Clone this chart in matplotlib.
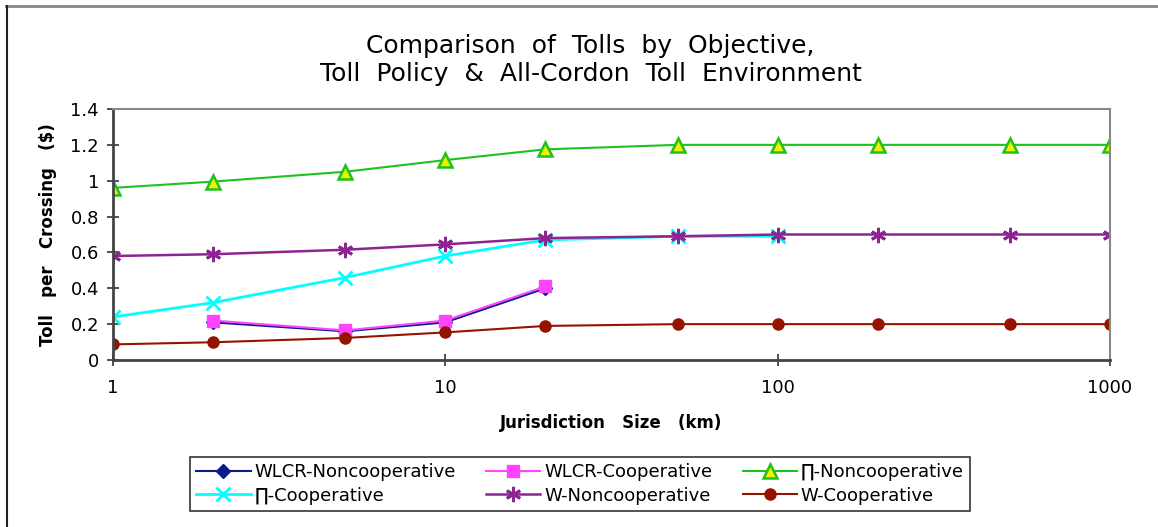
import matplotlib
matplotlib.use("Agg")
import matplotlib.pyplot as plt
from matplotlib.lines import Line2D

# data
sizes = [1, 2, 5, 10, 20, 50, 100, 200, 500, 1000]

wlcr_nc_x = [2, 5, 10, 20]
wlcr_nc = [0.21, 0.16, 0.21, 0.40]
wlcr_c_x = [2, 5, 10, 20]
wlcr_c = [0.22, 0.165, 0.22, 0.41]
pi_nc = [0.96, 0.995, 1.05, 1.115, 1.175, 1.2, 1.2, 1.2, 1.2, 1.2]
pi_c_x = [1, 2, 5, 10, 20, 50, 100]
pi_c = [0.24, 0.32, 0.46, 0.58, 0.67, 0.69, 0.69]
w_nc = [0.58, 0.59, 0.615, 0.645, 0.68, 0.69, 0.70, 0.70, 0.70, 0.70]
w_c = [0.087, 0.099, 0.123, 0.154, 0.19, 0.20, 0.20, 0.20, 0.20, 0.20]

labels = ["WLCR-Noncooperative", "WLCR-Cooperative", "\u220f-Noncooperative",
          "\u220f-Cooperative", "W-Noncooperative", "W-Cooperative"]

fig = plt.figure(figsize=(11.58, 5.27), dpi=100)
ax = fig.add_axes((113 / 1158, 1 - 360 / 527, 997 / 1158, 251 / 527))

ax.plot(wlcr_nc_x, wlcr_nc, color="#0a1a8c", marker="D", markersize=7,
        lw=1.5, label=labels[0])
ax.plot(wlcr_c_x, wlcr_c, color="#ff44ff", marker="s", markersize=8,
        lw=1.5, label=labels[1])
ax.plot(sizes, pi_nc, color="#1ec21e", marker="^", markersize=10,
        markerfacecolor="#f0f000", markeredgecolor="#1ec21e", mew=1.8,
        lw=1.5, label=labels[2])
ax.plot(pi_c_x, pi_c, color="#00ffff", marker="x", markersize=10, mew=2,
        lw=2, label=labels[3])
ax.plot(sizes, w_nc, color="#8e2491", marker=(6, 2, 0), markersize=11, mew=2,
        lw=1.8, label=labels[4])
ax.plot(sizes, w_c, color="#941400", marker="o", markersize=8,
        lw=1.5, label=labels[5])

ax.set_xscale("log")
ax.set_xlim(1, 1000)
ax.set_ylim(0, 1.4)
ax.set_yticks([0, 0.2, 0.4, 0.6, 0.8, 1, 1.2, 1.4])
ax.set_yticklabels(["0", "0.2", "0.4", "0.6", "0.8", "1", "1.2", "1.4"])
ax.set_xticks([1, 10, 100, 1000])
ax.set_xticklabels(["1", "10", "100", "1000"])
ax.minorticks_off()
ax.tick_params(labelsize=13, direction="inout", length=8, width=1.2,
               colors="#333333", labelcolor="black")
ax.tick_params(axis="x", pad=10)
ax.tick_params(axis="y", pad=6)

for side in ["top", "right"]:
    ax.spines[side].set_color("#888888")
    ax.spines[side].set_linewidth(1.5)
for side in ["left", "bottom"]:
    ax.spines[side].set_color("#444444")
    ax.spines[side].set_linewidth(2)

ax.set_ylabel("Toll   per   Crossing   ($)", fontsize=12, fontweight="bold",
              labelpad=10)
ax.set_xlabel("Jurisdiction   Size   (km)", fontsize=12, fontweight="bold",
              labelpad=12)

fig.text(0.51, 1 - 60 / 527, "Comparison  of  Tolls  by  Objective,\n"
         "Toll  Policy  &  All-Cordon  Toll  Environment",
         ha="center", va="center", fontsize=18, linespacing=1.25)

# legend is filled row by row in the reference
handles, labs = ax.get_legend_handles_labels()
order = [0, 3, 1, 4, 2, 5]
leg = fig.legend([handles[i] for i in order], [labs[i] for i in order],
                 loc="center", bbox_to_anchor=(580 / 1158, 1 - 484 / 527),
                 ncol=3, fontsize=13, frameon=True, fancybox=False,
                 edgecolor="black", handlelength=3, columnspacing=1.7,
                 borderpad=0.35, labelspacing=0.3, handletextpad=0.2)
leg.get_frame().set_linewidth(1.2)

# outer chart border (top and left only)
fig.add_artist(Line2D([6 / 1158, 1], [1 - 6 / 527, 1 - 6 / 527],
                      color="#888888", lw=2, transform=fig.transFigure))
fig.add_artist(Line2D([6.5 / 1158, 6.5 / 1158], [0, 1 - 6 / 527],
                      color="#222222", lw=1.5, transform=fig.transFigure))

fig.savefig("out.png", dpi=100)
